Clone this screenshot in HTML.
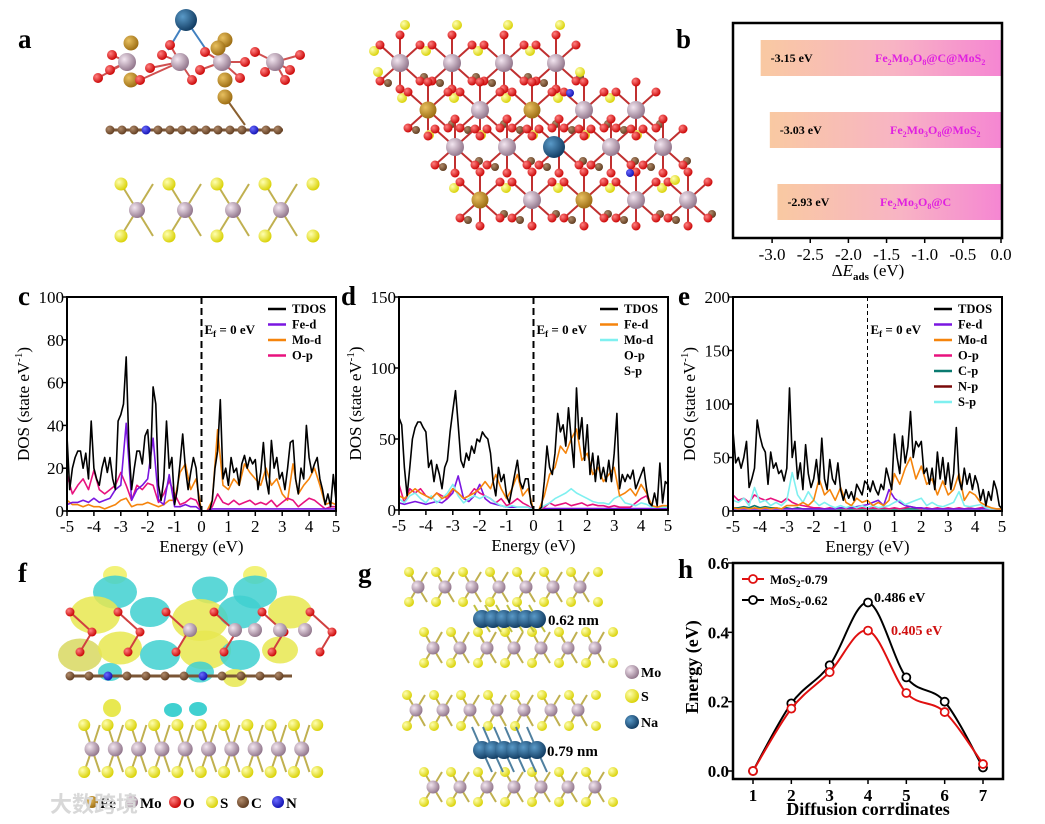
<!DOCTYPE html>
<html><head><meta charset="utf-8"><style>
html,body{margin:0;padding:0;background:#fff;}
svg{display:block;font-family:"Liberation Serif",serif;}
</style></head><body>
<svg id="fig" width="1045" height="824" viewBox="0 0 1045 824" xmlns="http://www.w3.org/2000/svg">
<defs>
<linearGradient id="barg" x1="0" x2="1" y1="0" y2="0"><stop offset="0" stop-color="#f9c9a2"/><stop offset="0.55" stop-color="#f8b4c4"/><stop offset="1" stop-color="#f586d2"/></linearGradient>
<radialGradient id="gMo" cx="0.35" cy="0.35" r="0.7"><stop offset="0" stop-color="#f3e6f0"/><stop offset="1" stop-color="#8f7389"/></radialGradient>
<radialGradient id="gS" cx="0.35" cy="0.35" r="0.7"><stop offset="0" stop-color="#ffffb0"/><stop offset="1" stop-color="#d8d000"/></radialGradient>
<radialGradient id="gO" cx="0.35" cy="0.35" r="0.7"><stop offset="0" stop-color="#ff8080"/><stop offset="1" stop-color="#c80000"/></radialGradient>
<radialGradient id="gFe" cx="0.35" cy="0.35" r="0.7"><stop offset="0" stop-color="#e8c060"/><stop offset="1" stop-color="#9a6a10"/></radialGradient>
<radialGradient id="gC" cx="0.35" cy="0.35" r="0.7"><stop offset="0" stop-color="#b08a6a"/><stop offset="1" stop-color="#5e3a1e"/></radialGradient>
<radialGradient id="gNa" cx="0.35" cy="0.35" r="0.7"><stop offset="0" stop-color="#5a9ac8"/><stop offset="1" stop-color="#103a60"/></radialGradient>
<radialGradient id="gN" cx="0.35" cy="0.35" r="0.7"><stop offset="0" stop-color="#6a6aff"/><stop offset="1" stop-color="#1010b0"/></radialGradient>
</defs>
<g id="root"></g>
</svg>
<script>
// ---------------- Panel b data ----------------
const bSystems = ["Fe2Mo3O8@C@MoS2","Fe2Mo3O8@MoS2","Fe2Mo3O8@C"];
const bValues = [-3.15,-3.03,-2.93];
const bTicks = [-3.0,-2.5,-2.0,-1.5,-1.0,-0.5,0.0];

// ---------------- Panel h data ----------------
const hCoords = [1,2,3,4,5,6,7];
const hRed = [0,0.18,0.285,0.405,0.225,0.17,0.02];
const hBlack = [0,0.195,0.305,0.486,0.27,0.2,0.01];
const hYTicks = [0.0,0.2,0.4,0.6];

// ---------------- DOS data (energy from -5 to 5) ----------------
const dosXTicks = [-5,-4,-3,-2,-1,0,1,2,3,4,5];
const cTDOS = [35,10,20,25,28,28,20,27,15,42,20,15,12,20,25,18,25,15,10,42,45,50,72,30,10,20,28,28,22,35,38,20,58,50,12,5,15,42,20,25,3,10,22,36,20,10,18,25,20,5,0,0,0,0,5,20,28,52,15,20,12,25,18,20,12,22,26,20,25,22,24,10,18,32,15,8,33,20,25,15,18,10,20,32,33,15,8,20,15,40,25,18,22,25,15,10,3,8,2,17,5];
const cMod = [5,3,3,2,3,2,2,1,2,3,5,6,2,3,3,4,3,2,3,5,5,18,22,10,15,0,0,5,38,12,10,15,12,22,18,15,12,20,12,15,8,5,22,8,12,15,20,12,3,4,3];
const cFed = [3,4,4,5,4,6,4,5,6,10,12,41,5,10,12,15,34,5,3,17,2,2,3,2,2,0,0,1,1,1,1,1,1,1,1,1,1,1,1,1,1,1,1,1,1,1,1,1,1,1,1];
const cOp = [17,8,12,15,10,19,10,8,10,12,18,12,5,12,10,13,12,4,8,14,8,3,4,6,5,0,0,2,8,4,3,5,3,4,5,3,4,3,5,2,4,6,5,2,4,6,5,3,1,2,2];
const dTDOS = [65,60,30,10,30,50,58,62,62,58,55,30,35,20,32,25,15,30,35,55,70,84,60,35,30,40,35,45,40,50,48,55,52,50,40,20,10,30,20,25,10,5,15,25,35,20,15,22,22,5,0,0,0,2,20,45,30,25,40,68,55,60,45,72,50,30,86,50,65,35,60,25,40,20,38,22,30,20,35,20,40,68,15,25,20,25,22,28,15,20,25,30,15,5,3,12,3,33,5,20,18];
const dFed = [10,8,12,15,12,10,8,12,8,10,15,12,8,10,12,15,20,15,25,15,8,15,25,10,15,0,0,10,25,30,45,40,50,57,35,40,25,30,20,25,30,10,12,15,10,18,12,3,2,3,3];
const dMod = [8,5,10,12,8,5,10,5,8,12,18,10,5,8,10,8,10,8,5,3,2,3,2,2,2,0,0,3,5,8,10,12,15,12,10,8,6,5,5,4,8,10,5,4,3,5,4,2,2,2,2];
const dOp = [18,5,15,12,15,10,8,12,10,8,15,12,8,10,15,12,10,8,5,8,3,5,8,5,3,0,0,2,5,3,4,5,3,4,5,3,4,3,3,2,3,2,2,2,5,8,10,2,2,3,2];
const dSp = [5,4,5,6,5,4,5,6,5,8,12,24,8,6,10,18,8,5,4,3,2,2,2,2,2,0,0,1,1,1,1,1,1,1,1,1,1,1,1,1,1,1,1,1,1,1,1,1,1,1,1];
const eTDOS = [75,45,50,40,50,65,22,30,40,85,70,60,55,25,55,40,45,35,38,28,40,115,50,65,30,45,20,62,35,22,30,48,25,68,30,20,48,30,25,45,20,10,20,12,18,10,25,20,15,28,25,18,28,20,15,25,20,40,30,20,72,50,35,70,45,60,93,50,65,60,65,35,40,25,40,20,55,30,50,25,45,20,35,78,30,20,40,25,35,20,33,25,10,20,5,18,10,28,20,5,2];
const eMod = [3,2,3,2,3,2,3,2,3,2,5,5,5,8,5,10,30,15,20,10,22,8,5,12,8,10,5,8,5,10,35,25,40,50,30,42,25,30,15,28,15,20,35,10,18,15,8,5,3,2,2];
const eSp = [10,8,12,5,22,8,10,5,8,5,10,36,15,8,18,10,5,8,5,3,5,3,5,3,5,3,5,3,4,5,8,10,6,8,10,12,5,8,5,4,6,8,18,5,4,5,6,3,2,2,2];
const eOp = [15,10,12,8,15,12,10,12,10,8,12,8,6,5,4,3,3,2,3,2,3,2,3,2,3,2,3,2,3,2,3,2,3,4,3,2,3,2,3,2,3,2,3,2,3,2,3,4,2,2,2];
const eFed = [2,2,2,2,2,2,2,2,2,2,2,2,2,2,2,2,2,2,2,2,3,3,3,4,5,6,8,10,5,20,12,8,5,4,3,3,2,2,2,2,2,2,2,2,2,2,2,2,2,2,2];
const eCp = [3,3,4,3,5,3,4,3,3,2,3,2,3,2,2,2,2,2,2,2,2,2,2,2,2,2,2,2,2,2,2,2,2,2,2,2,2,2,2,2,2,2,2,2,2,2,2,3,2,2,2];

const NS = "http://www.w3.org/2000/svg";
const root = document.getElementById('root');
function mk(tag, attrs, parent){const e=document.createElementNS(NS,tag);for(const k in attrs)e.setAttribute(k,attrs[k]);(parent||root).appendChild(e);return e;}
function txt(x,y,s,size,attrs,parent){const e=mk('text',Object.assign({x:x,y:y,'font-size':size,'font-weight':'bold'},attrs||{}),parent);e.textContent=s;return e;}

[["a",18,48],["b",676,48],["c",18,305],["d",341,305],["e",678,305],["f",18,582],["g",358,582],["h",678,578]].forEach(p=>{
  const t=txt(p[1],p[2],p[0],27,{'font-family':'Liberation Serif,serif'});
  
  
});

function dosPanel(name,X0,X1,Y0,Y1,ymax,yticks,series,legend,efx,efDash){
  const g=mk('g',{});
  
  
  const sx=e=>X0+(e+5)/10*(X1-X0);
  const sy=v=>Y1-Math.min(v,ymax)/ymax*(Y1-Y0);
  series.forEach(s=>{
    const step=10/(s.data.length-1);
    const pts=s.data.map((v,i)=>sx(-5+i*step).toFixed(1)+','+sy(v).toFixed(1)).join(' ');
    const pl=mk('polyline',{points:pts,fill:'none',stroke:s.color,'stroke-width':s.w||1.6,'stroke-linejoin':'round'},g);
    
    
  });
  const ef=mk('line',{x1:sx(0),x2:sx(0),y1:Y0,y2:Y1,stroke:'#000','stroke-width':efDash?1:2,'stroke-dasharray':efDash?'4,3':'7,4'},g);
  
  
  const eft=txt(sx(0)+3,Y0+37,'E',13,{},g);
  eft.innerHTML='E<tspan font-size="9" dy="3">f</tspan><tspan dy="-3"> = 0 eV</tspan>';
  
  
  const fr=mk('rect',{x:X0,y:Y0,width:X1-X0,height:Y1-Y0,fill:'none',stroke:'#000','stroke-width':2},g);
  
  
  dosXTicks.forEach(t=>{
    mk('line',{x1:sx(t),x2:sx(t),y1:Y1,y2:Y1+5,stroke:'#000','stroke-width':1.5},g);
    const l=txt(sx(t),Y1+21,(t<0?'-':'')+Math.abs(t),17,{'text-anchor':'middle','font-weight':'normal'},g);
    
    
  });
  yticks.forEach(t=>{
    mk('line',{x1:X0-5,x2:X0,y1:sy(t),y2:sy(t),stroke:'#000','stroke-width':1.5},g);
    const l=txt(X0-3,sy(t)+6,String(t),17,{'text-anchor':'end','font-weight':'normal'},g);
    
    
  });
  const xl=txt((X0+X1)/2,Y1+41,'Energy (eV)',17,{'text-anchor':'middle','font-weight':'normal'},g);
  
  
  const yl=txt(0,0,'',17,{'text-anchor':'middle','font-weight':'normal',transform:`translate(${X0-38},${(Y0+Y1)/2}) rotate(-90)`},g);
  yl.innerHTML='DOS (state eV<tspan font-size="11" dy="-7">-1</tspan><tspan dy="7">)</tspan>';
  
  
  legend.forEach((L,i)=>{
    const ly=Y0+16+i*15.5;
    const lx=X1-68;
    if(L.color) mk('line',{x1:lx,x2:lx+18,y1:ly-4,y2:ly-4,stroke:L.color,'stroke-width':2.5},g);
    const lt=txt(lx+24,ly,L.name,12.5,{},g);
    
    
  });
}
dosPanel('c',67,336,297,511,100,[0,20,40,60,80,100],[
  {name:'mo-d',data:cMod,color:'#f5840c'},
  {name:'o-p',data:cOp,color:'#e8127e'},
  {name:'fe-d',data:cFed,color:'#7a16e0'},
  {name:'tdos',data:cTDOS,color:'#000'}],
  [{name:'TDOS',color:'#000'},{name:'Fe-d',color:'#7a16e0'},{name:'Mo-d',color:'#f5840c'},{name:'O-p',color:'#e8127e'}]);
dosPanel('d',399,668,297,510,150,[0,50,100,150],[
  {name:'s-p',data:dSp,color:'#7a16e0'},
  {name:'o-p',data:dOp,color:'#e8127e'},
  {name:'mo-d',data:dMod,color:'#7ff0f0'},
  {name:'fe-d',data:dFed,color:'#f5840c'},
  {name:'tdos',data:dTDOS,color:'#000'}],
  [{name:'TDOS',color:'#000'},{name:'Fe-d',color:'#f5840c'},{name:'Mo-d',color:'#7ff0f0'},{name:'O-p'},{name:'S-p'}]);
dosPanel('e',733,1002,297,511,200,[0,50,100,150,200],[
  {name:'c-p',data:eCp,color:'#0a7a70'},
  {name:'o-p',data:eOp,color:'#e8127e'},
  {name:'fe-d',data:eFed,color:'#7a16e0'},
  {name:'s-p',data:eSp,color:'#7ff0f0'},
  {name:'mo-d',data:eMod,color:'#f5840c'},
  {name:'tdos',data:eTDOS,color:'#000'}],
  [{name:'TDOS',color:'#000'},{name:'Fe-d',color:'#7a16e0'},{name:'Mo-d',color:'#f5840c'},{name:'O-p',color:'#e8127e'},{name:'C-p',color:'#0a7a70'},{name:'N-p',color:'#7a0a0a'},{name:'S-p',color:'#7ff0f0'}],0,true);

(function(){
  const X0=733,X1=1002,Y0=23,Y1=238;
  const sx=v=>1001+v*76.3;
  const g=mk('g',{});
  
  
  const barY=[40,112,184];
  bValues.forEach((v,i)=>{
    const r=mk('rect',{x:sx(v),y:barY[i],width:sx(0)-sx(v),height:36,fill:'url(#barg)'},g);
    
    
    const vl=txt(sx(v)+10,barY[i]+22,v.toFixed(2)+' eV',12,{},g);
    
    
  });
  const names=[['Fe','2','Mo','3','O','8','@C@MoS','2'],['Fe','2','Mo','3','O','8','@MoS','2'],['Fe','2','Mo','3','O','8','@C','']];
  const nx=[875,890,880];
  names.forEach((n,i)=>{
    const t=txt(nx[i],barY[i]+22,'',12,{fill:'#e020e0'},g);
    t.innerHTML=`${n[0]}<tspan font-size="8" dy="3">${n[1]}</tspan><tspan dy="-3">${n[2]}</tspan><tspan font-size="8" dy="3">${n[3]}</tspan><tspan dy="-3">${n[4]}</tspan><tspan font-size="8" dy="3">${n[5]}</tspan><tspan dy="-3">${n[6]}</tspan><tspan font-size="8" dy="3">${n[7]}</tspan>`;
    
    
  });
  const fr=mk('rect',{x:X0,y:Y0,width:X1-X0,height:Y1-Y0,fill:'none',stroke:'#000','stroke-width':2.5},g);
  
  
  bTicks.forEach(t=>{
    mk('line',{x1:sx(t),x2:sx(t),y1:Y1,y2:Y1+5,stroke:'#000','stroke-width':1.5},g);
    const l=txt(sx(t),Y1+22,t.toFixed(1),17,{'text-anchor':'middle','font-weight':'normal'},g);
    
    
  });
  const xl=txt(868,276,'',17,{'text-anchor':'middle','font-weight':'normal'},g);
  xl.innerHTML='Δ<tspan font-style="italic">E</tspan><tspan font-size="11" dy="4" font-weight="bold">ads</tspan><tspan dy="-4"> (eV)</tspan>';
  
  
})();

(function(){
  const X0=733,X1=1003,Y0=563,Y1=779;
  const sx=c=>753+(c-1)*(983-753)/6;
  const sy=v=>771-v/0.6*(771-563);
  const g=mk('g',{});
  
  
  function spline(xs,ys){
    const p=xs.map((x,i)=>[sx(x),sy(ys[i])]);
    let d='M'+p[0][0]+','+p[0][1];
    for(let i=0;i<p.length-1;i++){
      const p0=p[Math.max(i-1,0)],p1=p[i],p2=p[i+1],p3=p[Math.min(i+2,p.length-1)];
      const c1=[p1[0]+(p2[0]-p0[0])/6,p1[1]+(p2[1]-p0[1])/6];
      const c2=[p2[0]-(p3[0]-p1[0])/6,p2[1]-(p3[1]-p1[1])/6];
      d+=` C${c1[0]},${c1[1]} ${c2[0]},${c2[1]} ${p2[0]},${p2[1]}`;
    }
    return d;
  }
  [[hBlack,'#000','mos2-0.62'],[hRed,'#e01010','mos2-0.79']].forEach(s=>{
    const p=mk('path',{d:spline(hCoords,s[0]),fill:'none',stroke:s[1],'stroke-width':2},g);
    
    
    s[0].forEach((v,i)=>{
      const c=mk('circle',{cx:sx(hCoords[i]),cy:sy(v),r:4,fill:'#fff',stroke:s[1],'stroke-width':1.8},g);
      
      
    });
  });
  const fr=mk('rect',{x:X0,y:Y0,width:X1-X0,height:Y1-Y0,fill:'none',stroke:'#000','stroke-width':2.5},g);
  
  
  hCoords.forEach(c=>{
    mk('line',{x1:sx(c),x2:sx(c),y1:Y1,y2:Y1+5,stroke:'#000','stroke-width':1.5},g);
    const l=txt(sx(c),Y1+22,String(c),17,{'text-anchor':'middle'},g);
    
    
  });
  hYTicks.forEach(t=>{
    mk('line',{x1:X0-5,x2:X0,y1:sy(t),y2:sy(t),stroke:'#000','stroke-width':1.5},g);
    const l=txt(X0-4,sy(t)+6,t.toFixed(1),17,{'text-anchor':'end'},g);
    
    
  });
  const xl=txt(868,815,'Diffusion corrdinates',18,{'text-anchor':'middle'},g);
  
  
  const yl=txt(0,0,'Energy (eV)',18,{'text-anchor':'middle',transform:'translate(698,667) rotate(-90)'},g);
  
  
  const a1=txt(874,602,'0.486 eV',14,{},g);
  
  
  const a2=txt(891,635,'0.405 eV',14,{fill:'#d01010'},g);
  
  
  [['#e01010','MoS','-0.79',579],['#000','MoS','-0.62',600]].forEach(L=>{
    mk('line',{x1:742,x2:764,y1:L[3],y2:L[3],stroke:L[0],'stroke-width':2},g);
    mk('circle',{cx:753,cy:L[3],r:4,fill:'#fff',stroke:L[0],'stroke-width':1.8},g);
    const t=txt(770,L[3]+5,'',13,{},g);
    t.innerHTML='MoS<tspan font-size="9" dy="3">2</tspan><tspan dy="-3">'+L[2]+'</tspan>';
    
    
  });
})();

function atom(x,y,r,type,parent){return mk('circle',{cx:x,cy:y,r:r,fill:'url(#g'+type+')'},parent);}
function bond(x1,y1,x2,y2,col,parent){mk('line',{x1,y1,x2,y2,stroke:col,'stroke-width':2},parent);}
function mos2(parent,x0,n,dx,yTop,yMo,yBot,rS,rMo){
  for(let i=0;i<n;i++){
    const xm=x0+i*dx;
    bond(xm,yMo,xm-dx/3,yTop,'#c0b050',parent);bond(xm,yMo,xm+dx/3,yTop,'#c0b050',parent);
    bond(xm,yMo,xm-dx/3,yBot,'#c0b050',parent);bond(xm,yMo,xm+dx/3,yBot,'#c0b050',parent);
  }
  for(let i=0;i<=n;i++){const xs=x0-dx/3+i*dx;atom(xs,yTop,rS,'S',parent);atom(xs,yBot,rS,'S',parent);}
  for(let i=0;i<n;i++)atom(x0+i*dx,yMo,rMo,'Mo',parent);
}

(function(){
  const g=mk('g',{});
  
  
  const mo=[127,180,222,275];
  const ox=[[112,55],[162,55],[205,52],[255,52],[300,55],[98,78],[140,80],[192,80],[240,78],[285,80],[110,70],[290,70],[200,70],[245,62],[150,68],[170,45],[265,72]];
  ox.forEach(o=>{bond(o[0],o[1],mo[Math.min(3,Math.max(0,Math.round((o[0]-110)/55)))],62,'#d05050',g);});
  bond(186,20,168,50,'#4080c0',g);bond(186,20,205,48,'#4080c0',g);
  bond(225,97,245,125,'#8a6030',g);
  mo.forEach(x=>atom(x,62,9,'Mo',g));
  [[131,43],[225,40],[131,80],[225,80],[225,97],[218,48]].forEach(p=>atom(p[0],p[1],7.5,'Fe',g));
  ox.forEach(o=>atom(o[0],o[1],5,'O',g));
  atom(186,20,11,'Na',g);
  mk('line',{x1:108,x2:283,y1:130,y2:130,stroke:'#7a5535','stroke-width':3},g);
  for(let x=110;x<=282;x+=12){atom(x,130,4.5,(x===146||x===254)?'N':'C',g);}
  mos2(g,137,4,48,184,210,236,6.5,8);
})();

(function(){
  const g=mk('g',{});
  
  
  const rows=[[63,400,4],[110,428,5],[147,455,5],[200,480,5]];
  rows.forEach((r,ri)=>{
    for(let i=0;i<r[2];i++){
      const x=r[1]+i*52,y=r[0];
      for(const d of [[-20,-18],[20,-18],[-20,18],[20,18],[0,-28],[0,26]]){bond(x,y,x+d[0],y+d[1],'#c03030',g);}
      atom(x-26,y-12,5,'S',g);atom(x+24,y+14,4,'C',g);atom(x-12,y+20,4,'C',g);
    }
  });
  rows.forEach((r,ri)=>{
    for(let i=0;i<r[2];i++){
      const x=r[1]+i*52,y=r[0];
      const fe=(ri===1&&(i===0||i===2))||(ri===3&&(i===0||i===2));
      if(ri===2&&i===2){atom(x-5,y,11,'Na',g);}
      else atom(x,y,fe?8.5:9,fe?'Fe':'Mo',g);
      [[-20,-18],[20,-18],[-20,18],[20,18],[0,-28],[0,26]].forEach(d=>atom(x+d[0],y+d[1],4.5,'O',g));
    }
  });
  [[405,25],[457,25],[508,25],[560,25],[378,72],[580,72],[675,180]].forEach(p=>atom(p[0],p[1],5,'S',g));
  atom(570,93,4,'N',g);atom(630,173,4,'N',g);
})();

(function(){
  const g=mk('g',{});
  
  
  const blobs=[[115,575,12,'#f0f060'],[255,575,12,'#f0f060'],[115,592,22,'#40d0d0'],[210,590,18,'#40d0d0'],[255,592,22,'#40d0d0'],
    [95,615,25,'#e8e850'],[150,612,20,'#40d0d0'],[200,620,28,'#e8e850'],[240,612,22,'#40d0d0'],[290,612,22,'#e8e850'],
    [80,655,22,'#d8d860'],[120,648,22,'#e8e850'],[160,655,20,'#40d0d0'],[205,650,26,'#e8e850'],[240,655,20,'#40d0d0'],[280,650,18,'#e8e850'],
    [110,672,12,'#40d0d0'],[200,672,14,'#40d0d0'],[235,678,12,'#e8e850']];
  blobs.forEach(b=>mk('ellipse',{cx:b[0],cy:b[1],rx:b[2],ry:b[2]*0.75,fill:b[3],opacity:0.85},g));
  for(let i=0;i<6;i++){const x=70+i*48;bond(x,612,x+22,632,'#d04040',g);bond(x+22,632,x+10,652,'#d04040',g);}
  for(let i=0;i<6;i++){const x=70+i*48;atom(x,612,4.5,'O',g);atom(x+22,632,4.5,'O',g);atom(x+10,652,4.5,'O',g);}
  [190,235,255,280,305].forEach(x=>atom(x,630,7,'Mo',g));
  mk('line',{x1:68,x2:292,y1:676,y2:676,stroke:'#7a5535','stroke-width':3},g);
  for(let x=70;x<=292;x+=19)atom(x,676,4.5,(x===108||x===203)?'N':'C',g);
  mk('ellipse',{cx:112,cy:708,rx:9,ry:9,fill:'#e8e850'},g);
  mk('ellipse',{cx:173,cy:710,rx:9,ry:7,fill:'#40d0d0'},g);mk('ellipse',{cx:198,cy:709,rx:9,ry:7,fill:'#40d0d0'},g);
  mos2(g,92,10,23.3,725,749,772,6,7.5);
})();

(function(){
  const g=mk('g',{});
  
  
  mos2(g,418,7,27,572,587,602,5,6.5);
  mos2(g,433,7,27,632,648,663,5,6.5);
  mos2(g,416,7,27,695,710,726,5,6.5);
  mos2(g,433,7,27,772,787,802,5,6.5);
  for(let i=0;i<6;i++){const x=482+i*11;bond(x,619,x-8,605,'#c0c040',g);bond(x,619,x+8,632,'#c0c040',g);}
  for(let i=0;i<6;i++){const x=482+i*11;bond(x,750,x-10,727,'#5080a0',g);bond(x,750,x+10,772,'#5080a0',g);}
  for(let i=0;i<6;i++)atom(482+i*11,619,9,'Na',g);
  for(let i=0;i<6;i++)atom(482+i*11,750,9,'Na',g);
  const l1=txt(548,625,'0.62 nm',15,{},g);
  
  
  const l2=txt(547,756,'0.79 nm',15,{},g);
  
  
  [['Mo',672],['S',696],['Na',722]].forEach(L=>{
    atom(632,L[1],7,L[0],g);
    const t=txt(641,L[1]+5,L[0],14,{},g);
    
    
  });
})();

(function(){
  const g=mk('g',{});
  
  
  [['Fe',92],['Mo',132],['O',175],['S',212],['C',243],['N',278]].forEach(L=>{
    atom(L[1],802,6,L[0],g);
    const t=txt(L[1]+8,808,L[0],15,{},g);
    
    
  });
  const w=txt(50,812,'大数跨境',22,{fill:'#d8d8d8','font-family':'Liberation Sans, Noto Sans CJK SC, sans-serif'},g);
  
  
})();
</script>
</body></html>
